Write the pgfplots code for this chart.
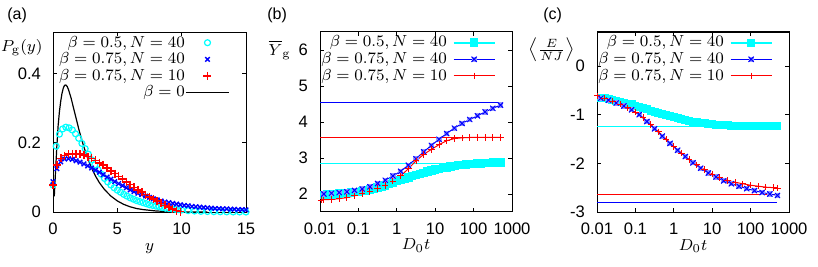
\documentclass[border=0pt]{standalone}
\usepackage[no-math]{fontspec}
\setmainfont{Liberation Sans}
\usepackage{pgfplots}
\pgfplotsset{compat=1.18}
\definecolor{gcyan}{RGB}{0,255,255}
\definecolor{gblue}{RGB}{0,0,255}
\definecolor{gred}{RGB}{255,0,0}
\definecolor{lblue}{RGB}{150,150,255}
\pgfdeclareplotmark{sqx}{%
  \pgfpathrectangle{\pgfqpoint{-\pgfplotmarksize}{-\pgfplotmarksize}}{\pgfqpoint{2\pgfplotmarksize}{2\pgfplotmarksize}}%
  \pgfusepathqfill
  \pgfpathmoveto{\pgfqpoint{-\pgfplotmarksize}{-\pgfplotmarksize}}%
  \pgfpathlineto{\pgfqpoint{\pgfplotmarksize}{\pgfplotmarksize}}%
  \pgfpathmoveto{\pgfqpoint{-\pgfplotmarksize}{\pgfplotmarksize}}%
  \pgfpathlineto{\pgfqpoint{\pgfplotmarksize}{-\pgfplotmarksize}}%
  \pgfusepathqstroke
}
\pgfplotsset{
  gp/.style={
    scale only axis, height=90pt,
    axis line style={line width=0.5pt},
    tick align=inside, tick pos=both, major tick length=2pt,
    tick style={line width=0.4pt, black},
    tick label style={font=\fontsize{8.3}{9}\selectfont},
    yticklabel style={xshift=-2.5pt},
    xticklabel style={yshift=-2pt},
    every axis x label/.style={at={(rel axis cs:0.5,0)}, anchor=base, yshift=-19pt, font=\fontsize{8}{9}\selectfont},
    legend cell align=right,
    legend plot pos=right,
    legend style={draw=none, fill=none, at={(rel axis cs:1,1)}, anchor=north east, xshift=-8pt, yshift=-1pt,
      font=\fontsize{7.6}{9}\selectfont, row sep=0pt, column sep=2.5pt, inner sep=0pt,
      nodes={inner sep=0.3pt, text height=6pt, text depth=1.7pt}},
    legend image code/.code={\draw[mark repeat=2,mark phase=2,##1] plot coordinates {(0pt,0pt) (10.25pt,0pt) (20.5pt,0pt)};},
  }
}
\begin{document}
\begin{tikzpicture}
\useasboundingbox (0,0) rectangle (409pt,-133.5pt);
\node[anchor=west, font=\fontsize{8}{9}\selectfont, inner sep=0pt] at (3.5pt,-7.5pt) {(a)};
\node[anchor=west, font=\fontsize{8}{9}\selectfont, inner sep=0pt] at (133.5pt,-7.5pt) {(b)};
\node[anchor=west, font=\fontsize{8}{9}\selectfont, inner sep=0pt] at (271.5pt,-7.5pt) {(c)};

% ---------------- (a)
\begin{axis}[gp, at={(26.5pt,-16pt)}, anchor=north west, width=96.5pt,
  xmin=0, xmax=15, ymin=0, ymax=0.52,
  xtick={0,5,10,15}, xticklabels={0,5,10,15},
  ytick={0,0.2,0.4}, yticklabels={0,0.2,0.4},
  xlabel={$y$}, ylabel={$P_{\mathrm{g}}(y)$},
  every axis y label/.style={at={(rel axis cs:-0.052,0.911)}, anchor=east, inner sep=0pt, font=\fontsize{8}{9}\selectfont},
  legend style={column sep=0pt},
  legend image code/.code={\draw[mark repeat=2,mark phase=2,#1] plot coordinates {(0pt,0pt) (10.75pt,0pt) (21.5pt,0pt)};},
]
\addplot[only marks, mark=o, mark size=1.5pt, gcyan, line width=0.6pt] coordinates {
(0.0,0.078) (0.25,0.19) (0.5,0.225) (0.75,0.24) (1.0,0.245) (1.25,0.243) (1.5,0.237) (1.75,0.226)
(2.0,0.213) (2.25,0.198) (2.5,0.183) (2.75,0.167) (3.0,0.151) (3.25,0.136) (3.5,0.122) (3.75,0.109)
(4.0,0.097) (4.25,0.087) (4.5,0.078) (4.75,0.070) (5.0,0.063) (5.25,0.057) (5.5,0.051) (5.75,0.046)
(6.0,0.041) (6.25,0.037) (6.5,0.033) (6.75,0.030) (7.0,0.027) (7.25,0.024) (7.5,0.021) (7.75,0.019)
(8.0,0.017) (8.25,0.015) (8.5,0.013) (8.75,0.011) (9.0,0.010) (9.25,0.009) (9.5,0.008) (9.75,0.007)
(10.0,0.006) (10.5,0.004) (11.0,0.003) (11.5,0.002) (12.0,0.0015) (12.5,0.001) (13.0,0.0008)
(13.5,0.0005) (14.0,0.0003) (14.5,0.0002) (15.0,0.0001)};
\addlegendentry{$\beta=0.5, N=40$}
\addplot[only marks, mark=x, mark size=1.6pt, gblue, line width=0.7pt] coordinates {
(0.0,0.088) (0.3,0.125) (0.6,0.145) (0.9,0.153) (1.2,0.154) (1.5,0.152) (1.8,0.148) (2.1,0.144)
(2.4,0.139) (2.7,0.133) (3.0,0.127) (3.3,0.121) (3.6,0.115) (3.9,0.108) (4.2,0.101) (4.5,0.095)
(4.8,0.088) (5.1,0.082) (5.4,0.076) (5.7,0.070) (6.0,0.064) (6.3,0.059) (6.6,0.054) (6.9,0.050)
(7.2,0.046) (7.5,0.042) (7.8,0.038) (8.1,0.035) (8.4,0.032) (8.7,0.029) (9.0,0.027) (9.3,0.025)
(9.6,0.023) (9.9,0.021) (10.2,0.019) (10.5,0.018) (10.8,0.016) (11.1,0.015) (11.4,0.014) (11.7,0.013)
(12.0,0.012) (12.3,0.011) (12.6,0.010) (12.9,0.010) (13.2,0.009) (13.5,0.009) (13.8,0.008) (14.1,0.008)
(14.4,0.007) (14.7,0.007) (15.0,0.006)};
\addlegendentry{$\beta=0.75, N=40$}
\addplot[only marks, mark=+, mark size=2pt, gred, line width=0.8pt] coordinates {
(0.0,0.078) (0.3,0.135) (0.6,0.155) (0.9,0.163) (1.2,0.167) (1.5,0.168) (1.8,0.168) (2.1,0.167)
(2.4,0.164) (2.7,0.160) (3.0,0.155) (3.3,0.149) (3.6,0.142) (3.9,0.135) (4.2,0.127) (4.5,0.119)
(4.8,0.111) (5.1,0.103) (5.4,0.095) (5.7,0.087) (6.0,0.079) (6.3,0.071) (6.6,0.064) (6.9,0.057)
(7.2,0.050) (7.5,0.043) (7.8,0.037) (8.1,0.031) (8.4,0.025) (8.7,0.019) (9.0,0.014) (9.3,0.009)
(9.6,0.004) (9.9,0.001)};
\addlegendentry{$\beta=0.75, N=10$}
\addplot[black, line width=0.6pt, mark=none] coordinates {
(0.1,0.045) (0.2,0.12) (0.3,0.19) (0.4,0.25) (0.5,0.29) (0.6,0.32) (0.7,0.343) (0.8,0.358) (0.9,0.366)
(1.0,0.367) (1.1,0.363) (1.2,0.354) (1.4,0.33) (1.6,0.30) (1.8,0.27) (2.0,0.24) (2.2,0.213) (2.4,0.188)
(2.6,0.165) (2.8,0.145) (3.0,0.127) (3.3,0.104) (3.6,0.085) (4.0,0.065) (4.5,0.046) (5.0,0.032)
(5.5,0.022) (6.0,0.015) (6.5,0.010) (7.0,0.007) (8.0,0.003) (9.0,0.0013) (10.0,0.0005) (11.0,0.0002) (12.0,0.0001)};
\addlegendentry{$\beta=0$}
\end{axis}

% ---------------- (b)
\begin{axis}[gp, at={(160pt,-16pt)}, anchor=north west, width=96pt,
  xmode=log, xmin=0.01, xmax=1000, ymin=1.5, ymax=6.5,
  xtick={0.01,0.1,1,10,100,1000}, xticklabels={0.01,0.1,1,10,100,1000}, xminorticks=false,
  ytick={2,3,4,5,6}, yticklabels={2,3,4,5,6},
  xlabel={$D_0t$}, ylabel={$\overline{Y}_{\mathrm{g}}$},
  every axis y label/.style={at={(rel axis cs:-0.15,0.9)}, anchor=east, inner sep=0pt, font=\fontsize{8}{9}\selectfont},
]
\addplot[gblue, line width=0.5pt, forget plot] coordinates {(0.01,4.55) (480,4.55)};
\addplot[gred, line width=0.5pt, forget plot] coordinates {(0.01,3.57) (480,3.57)};
\addplot[gcyan, line width=0.5pt, forget plot] coordinates {(0.01,2.85) (480,2.85)};
\addplot[gcyan, line width=1pt, mark=square*, mark size=1.6pt] coordinates {
(0.01259,1.98) (0.01585,1.99) (0.01995,1.99) (0.02512,2.00) (0.03162,2.01) (0.03981,2.02) (0.05012,2.03)
(0.0631,2.04) (0.07943,2.05) (0.1,2.06) (0.1259,2.08) (0.1585,2.10) (0.1995,2.12) (0.2512,2.15)
(0.3162,2.18) (0.3981,2.21) (0.5012,2.24) (0.631,2.28) (0.7943,2.32) (1,2.36) (1.259,2.39) (1.585,2.42)
(1.995,2.46) (2.512,2.50) (3.162,2.53) (3.981,2.56) (5.012,2.59) (6.31,2.62) (7.943,2.65) (10,2.68)
(12.59,2.70) (15.85,2.72) (19.95,2.74) (25.12,2.76) (31.62,2.78) (39.81,2.80) (50.12,2.81) (63.1,2.82)
(79.43,2.83) (100,2.84) (125.9,2.85) (158.5,2.85) (199.5,2.86) (251.2,2.86) (316.2,2.87) (398.1,2.87) (501.2,2.87)};
\addlegendentry{$\beta=0.5, N=40$}
\addplot[gblue, line width=0.5pt, mark=sqx, mark size=1.3pt, mark options={fill=lblue, draw=gblue, line width=0.5pt}] coordinates {
(0.01259,2.00) (0.01995,2.02) (0.03162,2.04) (0.05012,2.06) (0.07943,2.10) (0.1259,2.14) (0.1995,2.20)
(0.3162,2.29) (0.5012,2.38) (0.7943,2.50) (1.259,2.63) (1.995,2.80) (3.162,2.98) (5.012,3.17)
(7.943,3.35) (12.59,3.52) (19.95,3.68) (31.62,3.83) (50.12,3.96) (79.43,4.07) (125.9,4.17)
(199.5,4.28) (316.2,4.38) (501.2,4.47)};
\addlegendentry{$\beta=0.75, N=40$}
\addplot[gred, line width=0.5pt, mark=+, mark size=1.6pt] coordinates {
(0.01072,1.83) (0.01259,1.84) (0.01995,1.85) (0.03162,1.87) (0.05012,1.90) (0.07943,1.95) (0.1259,2.01)
(0.1995,2.07) (0.3162,2.15) (0.5012,2.24) (0.7943,2.36) (1.259,2.50) (1.995,2.70) (3.162,2.92)
(5.012,3.10) (7.943,3.24) (12.59,3.37) (19.95,3.48) (31.62,3.54) (50.12,3.56) (79.43,3.57)
(125.9,3.57) (199.5,3.57) (316.2,3.57) (501.2,3.57)};
\addlegendentry{$\beta=0.75, N=10$}
\end{axis}

% ---------------- (c)
\begin{axis}[gp, at={(298.5pt,-16pt)}, anchor=north west, width=96pt,
  xmode=log, xmin=0.01, xmax=1000, ymin=-3, ymax=0.7,
  xtick={0.01,0.1,1,10,100,1000}, xticklabels={0.01,0.1,1,10,100,1000}, xminorticks=false,
  ytick={-3,-2,-1,0}, yticklabels={-3,-2,-1,0},
  xlabel={$D_0t$}, ylabel={$\left\langle\frac{E}{NJ}\right\rangle$},
  every axis y label/.style={at={(rel axis cs:-0.115,0.9)}, anchor=east, inner sep=0pt, font=\fontsize{8}{9}\selectfont},
]
\addplot[gcyan, line width=0.5pt, forget plot] coordinates {(0.01,-1.245) (480,-1.245)};
\addplot[gred, line width=0.5pt, forget plot] coordinates {(0.01,-2.635) (480,-2.635)};
\addplot[gblue, line width=0.5pt, forget plot] coordinates {(0.01,-2.80) (480,-2.80)};
\addplot[gcyan, line width=1pt, mark=square*, mark size=1.5pt] coordinates {
(0.01259,-0.65) (0.01585,-0.66) (0.01995,-0.68) (0.02512,-0.69) (0.03162,-0.71) (0.03981,-0.73)
(0.05012,-0.75) (0.0631,-0.77) (0.07943,-0.79) (0.1,-0.82) (0.1259,-0.84) (0.1585,-0.87) (0.1995,-0.89)
(0.2512,-0.92) (0.3162,-0.95) (0.3981,-0.97) (0.5012,-0.99) (0.631,-1.01) (0.7943,-1.03) (1,-1.05)
(1.259,-1.07) (1.585,-1.09) (1.995,-1.11) (2.512,-1.13) (3.162,-1.14) (3.981,-1.16) (5.012,-1.17)
(6.31,-1.18) (7.943,-1.19) (10,-1.20) (12.59,-1.21) (15.85,-1.21) (19.95,-1.22) (25.12,-1.22)
(31.62,-1.23) (39.81,-1.23) (50.12,-1.23) (63.1,-1.23) (79.43,-1.23) (100,-1.23) (125.9,-1.23)
(158.5,-1.23) (199.5,-1.23) (251.2,-1.23) (316.2,-1.23) (398.1,-1.23) (501.2,-1.23)};
\addlegendentry{$\beta=0.5, N=40$}
\addplot[gblue, line width=0.5pt, mark=sqx, mark size=1.3pt, mark options={fill=lblue, draw=gblue, line width=0.5pt}] coordinates {
(0.01259,-0.66) (0.01995,-0.70) (0.03162,-0.76) (0.05012,-0.82) (0.07943,-0.90) (0.1259,-1.00)
(0.1995,-1.14) (0.3162,-1.29) (0.5012,-1.44) (0.7943,-1.59) (1.259,-1.73) (1.995,-1.86) (3.162,-1.99)
(5.012,-2.10) (7.943,-2.20) (12.59,-2.28) (19.95,-2.36) (31.62,-2.42) (50.12,-2.47) (79.43,-2.52)
(125.9,-2.56) (199.5,-2.60) (316.2,-2.63) (501.2,-2.66)};
\addlegendentry{$\beta=0.75, N=40$}
\addplot[gred, line width=0.5pt, mark=+, mark size=1.6pt] coordinates {
(0.01,-0.61) (0.01585,-0.66) (0.02512,-0.72) (0.03981,-0.78) (0.0631,-0.86) (0.1,-0.95) (0.1585,-1.06)
(0.2512,-1.20) (0.3981,-1.35) (0.631,-1.50) (1,-1.65) (1.585,-1.79) (2.512,-1.92) (3.981,-2.03)
(6.31,-2.13) (10,-2.22) (15.85,-2.29) (25.12,-2.35) (39.81,-2.39) (63.1,-2.42) (100,-2.45)
(158.5,-2.47) (251.2,-2.49) (398.1,-2.50) (501.2,-2.51)};
\addlegendentry{$\beta=0.75, N=10$}
\end{axis}
\end{tikzpicture}
\end{document}
